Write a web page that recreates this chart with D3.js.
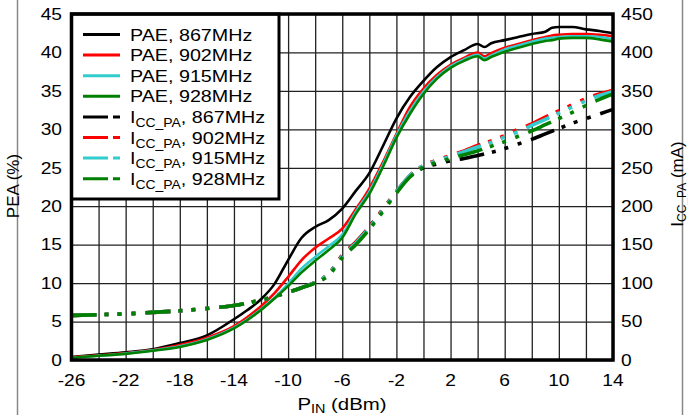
<!DOCTYPE html>
<html>
<head>
<meta charset="utf-8">
<script src="https://cdn.jsdelivr.net/npm/d3@7"></script>
<style>
  body { margin: 0; background: #fff; }
  text { font-family: "Liberation Sans", Arial, sans-serif; fill: #000; }
</style>
</head>
<body>
<svg id="chart" width="688" height="415"></svg>
<script>
// P_IN points (dBm) for the PAE curves
var paeX = [-26,-24,-22,-20,-18,-16,-14,-13,-12,-11,-10,-9,-8,-7,-6,-5,-4,-3,-2,-1,0,1,2,3,4,4.5,5,6,7,8,9,9.5,10,11,12,13,14];
var pae867 = [0.4,0.7,1.0,1.4,2.2,3.2,5.3,6.5,7.9,9.9,13.0,15.9,17.3,18.2,19.7,22.0,24.3,27.8,31.4,34.2,36.3,38.1,39.4,40.3,41.1,40.7,41.2,41.6,42.0,42.4,42.7,43.2,43.3,43.3,43.0,42.8,42.5];
var pae902 = [0.35,0.6,0.9,1.3,1.95,2.9,4.4,5.6,7.0,8.7,10.8,13.0,14.6,15.8,17.1,19.6,22.3,25.7,29.4,32.9,35.3,37.1,38.4,39.3,40.0,39.5,39.9,40.6,41.1,41.6,42.0,42.2,42.3,42.4,42.4,42.3,42.1];
var pae915 = [0.3,0.55,0.85,1.25,1.8,2.7,4.2,5.3,6.6,8.1,9.9,11.9,13.4,14.8,16.3,19.3,21.9,25.4,29.2,32.4,34.9,36.8,38.2,39.1,39.7,39.2,39.6,40.4,40.9,41.4,41.8,41.9,42.0,42.1,42.1,42.0,41.7];
var pae928 = [0.3,0.55,0.8,1.2,1.7,2.6,4.1,5.2,6.5,8.0,9.6,11.4,12.9,14.3,15.9,19.0,21.6,25.1,28.9,32.0,34.6,36.6,38.0,38.9,39.5,39.0,39.4,40.1,40.6,41.1,41.5,41.6,41.8,41.9,41.9,41.7,41.4];

// P_IN points (dBm) for the I_CC_PA curves
var iccX = [-26,-24,-22,-20,-18,-16,-14,-12,-10,-9,-8,-7,-6,-5,-4,-3,-2,-1,0,1,2,3,4,5,6,7,8,9,10,11,12,13,14];
var icc867 = [58,59,60,62,64,67,71,78,88,94,101,112,136,153,173,196,219,239,250,255,259,262,266,270,275,281,287,294,301,308,314,320,326];
var icc902 = [58,59,60,62,64,67,71,78,88,94,101,112,136,153,173,196,219,240,253,260,266,272,279,285,292,300,307,316,324,332,340,346,351];
var icc915 = [58,59,60,62,64,67,71,78,88,94,101,112,135,152,172,195,219,240,253,259,265,271,277,283,290,297,305,313,321,329,337,344,349];
var icc928 = [58,59,60,62,64,67,71,78,88,94,100,110,133,150,170,193,217,238,251,257,262,267,272,278,284,291,298,306,314,322,331,339,346];

var xTicks = [-26,-22,-18,-14,-10,-6,-2,2,6,10,14];
var leftTicks = [0,5,10,15,20,25,30,35,40,45];
var rightTicks = [0,50,100,150,200,250,300,350,400,450];

var seriesNames = ["867MHz","902MHz","915MHz","928MHz"];
var colors = ["#000000","#ff0000","#33cccc","#008000"];

var svg = d3.select("#chart");

var x = d3.scaleLinear().domain([-26, 14]).range([71.5, 613]);
var yL = d3.scaleLinear().domain([0, 45]).range([360, 14]);
var yR = d3.scaleLinear().domain([0, 450]).range([360, 14]);

// grey outer frame pieces
svg.append("line").attr("x1", 17.5).attr("x2", 17.5).attr("y1", 0).attr("y2", 415)
  .attr("stroke", "#888").attr("stroke-width", 1.5);
svg.append("line").attr("x1", 682.5).attr("x2", 682.5).attr("y1", 0).attr("y2", 415)
  .attr("stroke", "#888").attr("stroke-width", 1.5);

// grid
var gx = svg.append("g").attr("transform", "translate(0,360)")
  .call(d3.axisBottom(x).tickValues(d3.range(-26, 15, 2)).tickSize(-346).tickFormat(""));
var gy = svg.append("g").attr("transform", "translate(71.5,0)")
  .call(d3.axisLeft(yL).tickValues(leftTicks).tickSize(-541.5).tickFormat(""));
[gx, gy].forEach(function(g) {
  g.select(".domain").remove();
  g.selectAll(".tick line").attr("stroke", "#222").attr("stroke-width", 1.3);
});

// stretched text helper (the original is a bit wide)
function label(parent, px, py, str, anchor, size, sx) {
  var t = parent.append("g").attr("transform", "translate(" + px + "," + py + ") scale(" + sx + ",1)")
    .append("text").attr("text-anchor", anchor).attr("font-size", size);
  if (str !== null) t.text(str);
  return t;
}

leftTicks.forEach(function(v) {
  label(svg, 62, yL(v) + 5.8, v, "end", 16, 1.2);
});
rightTicks.forEach(function(v) {
  label(svg, 621, yR(v) + 5.8, v, "start", 16, 1.2);
});
xTicks.forEach(function(v) {
  label(svg, x(v), 386, v, "middle", 16, 1.2);
});

// axis titles
var xt = label(svg, 342, 410, null, "middle", 17, 1.2);
xt.append("tspan").text("P");
xt.append("tspan").attr("font-size", 12).attr("dy", 3).text("IN");
xt.append("tspan").attr("dy", -3).text(" (dBm)");

svg.append("text").attr("transform", "translate(18.5,186) rotate(-90)")
  .attr("text-anchor", "middle").attr("font-size", 17).text("PEA (%)");

var rt = svg.append("text").attr("transform", "translate(683,184) rotate(-90)")
  .attr("text-anchor", "middle").attr("font-size", 17);
rt.append("tspan").text("I");
rt.append("tspan").attr("font-size", 12).attr("dy", 3).text("CC_PA");
rt.append("tspan").attr("dy", -3).text(" (mA)");

// curves
var lineL = d3.line().x(function(d) { return x(d[0]); }).y(function(d) { return yL(d[1]); })
  .curve(d3.curveMonotoneX);
var lineR = d3.line().x(function(d) { return x(d[0]); }).y(function(d) { return yR(d[1]); })
  .curve(d3.curveMonotoneX);

var paeSeries = [pae867, pae902, pae915, pae928];
var iccSeries = [icc867, icc902, icc915, icc928];

paeSeries.forEach(function(s, i) {
  svg.append("path").datum(d3.zip(paeX, s))
    .attr("d", lineL).attr("fill", "none")
    .attr("stroke", colors[i]).attr("stroke-width", 2.6);
});
iccSeries.forEach(function(s, i) {
  svg.append("path").datum(d3.zip(iccX, s))
    .attr("d", lineR).attr("fill", "none")
    .attr("stroke", colors[i]).attr("stroke-width", 3.6)
    .attr("stroke-dasharray", "25,8,4,9,4,10,4,10");
});

// legend
var lg = svg.append("g");
lg.append("rect").attr("x", 71.5).attr("y", 14).attr("width", 207.5).attr("height", 185)
  .attr("fill", "#fff").attr("stroke", "#000").attr("stroke-width", 3);

var legendRows = [];
seriesNames.forEach(function(n, i) { legendRows.push({ kind: "pae", name: n, color: colors[i] }); });
seriesNames.forEach(function(n, i) { legendRows.push({ kind: "icc", name: n, color: colors[i] }); });

legendRows.forEach(function(r, i) {
  var cy = 34.5 + i * 20.6;
  var ln = lg.append("line").attr("x1", 83).attr("x2", 120).attr("y1", cy).attr("y2", cy)
    .attr("stroke", r.color).attr("stroke-width", 3);
  if (r.kind === "icc") ln.attr("stroke-dasharray", "25,5,7,20");
  var t = label(lg, 130, cy + 6, null, "start", 17, 1.16);
  if (r.kind === "pae") {
    t.text("PAE, " + r.name);
  } else {
    t.append("tspan").text("I");
    t.append("tspan").attr("font-size", 12).attr("dy", 4).text("CC_PA");
    t.append("tspan").attr("dy", -4).text(", " + r.name);
  }
});

// plot frame
svg.append("rect").attr("x", 71.5).attr("y", 14).attr("width", 541.5).attr("height", 346)
  .attr("fill", "none").attr("stroke", "#000").attr("stroke-width", 3.5);
</script>
</body>
</html>
